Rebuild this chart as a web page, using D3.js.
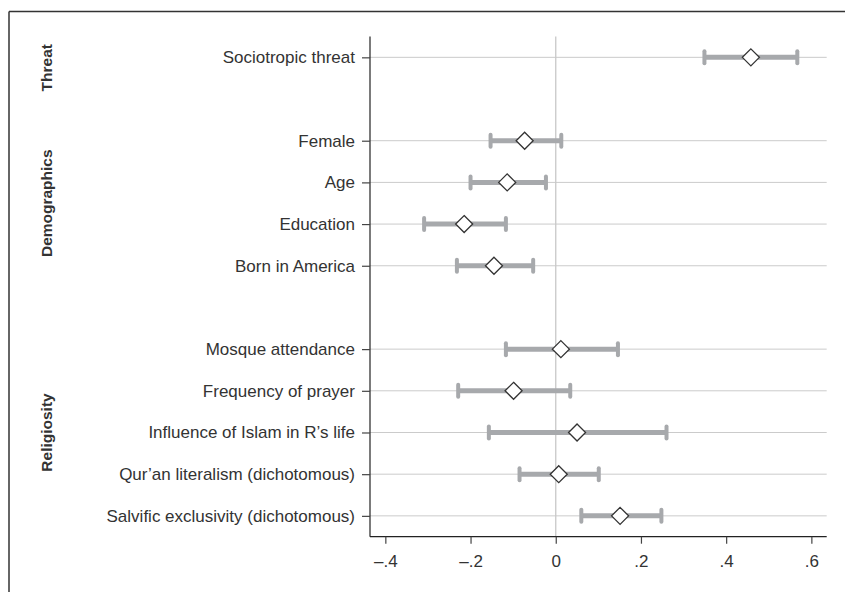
<!DOCTYPE html>
<html>
<head>
<script src="https://d3js.org/d3.v7.min.js"></script>
<style>
    body{ margin:0; background:#fff; }
    text{ font-family:"Liberation Sans", Arial, sans-serif; fill:#333; }
</style>
</head>
<body>
<div id="chart"></div>
<script>

    // row labels, top to bottom, and their slot on the y scale
    var labels = ["Sociotropic threat","Female","Age","Education","Born in America",
                  "Mosque attendance","Frequency of prayer","Influence of Islam in R\u2019s life",
                  "Qur\u2019an literalism (dichotomous)","Salvific exclusivity (dichotomous)"]
    var slots = [0,2,3,4,5,7,8,9,10,11]
    var estimates = [0.458,-0.073,-0.114,-0.215,-0.145,0.012,-0.099,0.050,0.007,0.151]
    var lower     = [0.349,-0.153,-0.200,-0.309,-0.232,-0.117,-0.229,-0.157,-0.085,0.060]
    var upper     = [0.567, 0.013,-0.023,-0.117,-0.053,0.146,0.034,0.260,0.101,0.248]

    var groups = ["Threat","Demographics","Religiosity"]
    var groupCenters = [0.25,3.5,9]

    var xTicks = [-0.4,-0.2,0,0.2,0.4,0.6]
    var xTickLabels = ["\u2013.4","\u2013.2","0",".2",".4",".6"]

    var width = 845, height = 592
    var svg = d3.select("#chart").append("svg").attr("width",width).attr("height",height)

    var x = d3.scaleLinear().domain([-0.436,0.636]).range([370,826.7])
    var y = d3.scaleLinear().domain([-0.5,11.5]).range([36.5,536.7])

    // outer frame (left + top edges only visible)
    svg.append("line").attr("x1",9).attr("x2",9).attr("y1",11.5).attr("y2",height)
        .attr("stroke","#333").attr("stroke-width",1.5)
    svg.append("line").attr("x1",9).attr("x2",width).attr("y1",11.5).attr("y2",11.5)
        .attr("stroke","#333").attr("stroke-width",1.5)

    // horizontal grid lines
    svg.selectAll(".grid").data(slots).enter().append("line")
        .attr("x1",x.range()[0]).attr("x2",x.range()[1])
        .attr("y1",function(d){return y(d)}).attr("y2",function(d){return y(d)})
        .attr("stroke","#cbcbcb").attr("stroke-width",1)

    // zero reference line
    svg.append("line").attr("x1",x(0)).attr("x2",x(0))
        .attr("y1",y.range()[0]).attr("y2",y.range()[1])
        .attr("stroke","#c8c8c8").attr("stroke-width",1.3)

    // y axis
    var yAxis = d3.axisLeft(y).tickValues(slots).tickSize(8).tickPadding(7)
        .tickFormat(function(d){return labels[slots.indexOf(d)]})
    var yg = svg.append("g").attr("transform","translate("+x.range()[0]+",0)").call(yAxis)
    yg.select(".domain").attr("d","M0,"+y.range()[0]+"V"+y.range()[1]).attr("stroke","#222").attr("stroke-width",1.2)
    yg.selectAll(".tick line").attr("stroke","#444").attr("stroke-width",1.2)
    yg.selectAll("text").attr("font-size",17).attr("fill","#333")
        .style("font-family","'Liberation Sans', Arial, sans-serif")

    // x axis
    var xAxis = d3.axisBottom(x).tickValues(xTicks).tickSize(7).tickPadding(11)
        .tickFormat(function(d,i){return xTickLabels[i]})
    var xg = svg.append("g").attr("transform","translate(0,"+y.range()[1]+")").call(xAxis)
    xg.select(".domain").attr("d","M"+x.range()[0]+",0H"+x.range()[1]).attr("stroke","#222").attr("stroke-width",1.2)
    xg.selectAll(".tick line").attr("stroke","#444").attr("stroke-width",1.2)
    xg.selectAll("text").attr("font-size",17).attr("fill","#333")
        .style("font-family","'Liberation Sans', Arial, sans-serif")

    // confidence intervals
    var rows = labels.map(function(l,i){return {slot:slots[i],est:estimates[i],lo:lower[i],hi:upper[i]}})
    var ci = svg.selectAll(".ci").data(rows).enter().append("g")
    ci.append("line")
        .attr("x1",function(d){return x(d.lo)}).attr("x2",function(d){return x(d.hi)})
        .attr("y1",function(d){return y(d.slot)}).attr("y2",function(d){return y(d.slot)})
        .attr("stroke","#a7a9ac").attr("stroke-width",5)
    ci.selectAll(".cap").data(function(d){return [{v:d.lo,s:d.slot},{v:d.hi,s:d.slot}]}).enter()
        .append("line")
        .attr("x1",function(d){return x(d.v)}).attr("x2",function(d){return x(d.v)})
        .attr("y1",function(d){return y(d.s)-6}).attr("y2",function(d){return y(d.s)+6})
        .attr("stroke","#a7a9ac").attr("stroke-width",4).attr("stroke-linecap","round")

    // point estimates (diamonds)
    var r = 8.5
    ci.append("path")
        .attr("d",function(d){var cx=x(d.est), cy=y(d.slot)
            return "M"+cx+","+(cy-r)+"L"+(cx+r)+","+cy+"L"+cx+","+(cy+r)+"L"+(cx-r)+","+cy+"Z"})
        .attr("fill","#fff").attr("stroke","#333").attr("stroke-width",1.3)

    // group labels
    svg.selectAll(".group").data(groups).enter().append("text")
        .text(function(d){return d})
        .attr("transform",function(d,i){return "translate(52,"+y(groupCenters[i])+") rotate(-90)"})
        .attr("text-anchor","middle")
        .attr("font-size",15.5).attr("font-weight","bold").attr("fill","#222")
        .style("font-family","'Liberation Sans Narrow', 'Liberation Sans', Arial, sans-serif")

</script>
</body>
</html>
